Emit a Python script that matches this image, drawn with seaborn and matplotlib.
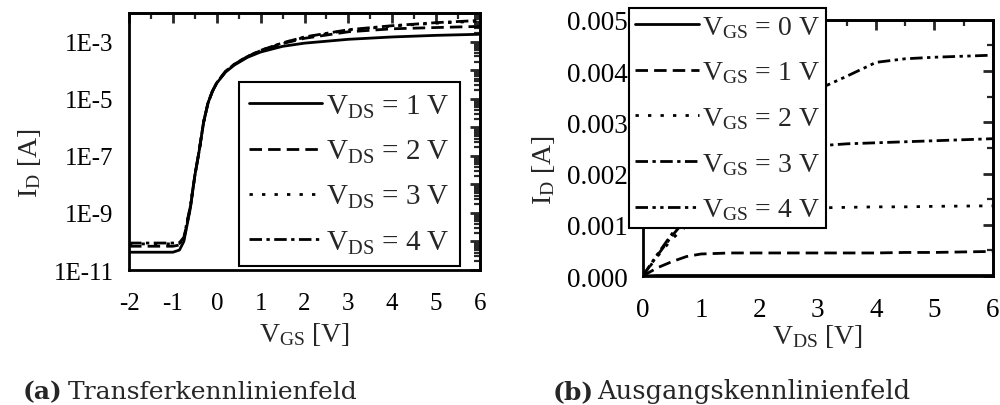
import numpy as np
import pandas as pd
import matplotlib
matplotlib.use('Agg')
import matplotlib.pyplot as plt
import matplotlib.ticker as mticker
import seaborn as sns

# (a) Transferkennlinien: I_D ueber V_GS
vgs = [-2, -1.5, -1.0, -0.85, -0.75, -0.6, -0.5, -0.4, -0.3, -0.2, -0.1, 0.0,
       0.2, 0.4, 0.7, 1.0, 1.5, 2.0, 3.0, 4.0, 5.0, 6.0]
id_vds1 = [4.2e-11, 4.2e-11, 4.2e-11, 5e-11, 1e-10, 1.5e-9, 2e-8, 1.5e-7, 1.5e-6, 7e-6,
           1.8e-5, 3.5e-5, 8.5e-5, 1.5e-4, 2.8e-4, 4.3e-4, 6.8e-4, 8.8e-4, 1.2e-3,
           1.45e-3, 1.65e-3, 1.8e-3]
id_vds2 = [6.8e-11, 6.8e-11, 6.8e-11, 7.5e-11, 1.2e-10, 1.6e-9, 2e-8, 1.5e-7, 1.5e-6, 7e-6,
           1.8e-5, 3.6e-5, 9e-5, 1.6e-4, 3e-4, 4.8e-4, 8.5e-4, 1.3e-3, 2.2e-3,
           2.8e-3, 3.1e-3, 3.4e-3]
id_vds3 = [8.2e-11, 8.2e-11, 8.2e-11, 8.5e-11, 1.3e-10, 1.7e-9, 2e-8, 1.5e-7, 1.5e-6, 7e-6,
           1.8e-5, 3.6e-5, 9e-5, 1.6e-4, 3e-4, 4.9e-4, 9e-4, 1.4e-3, 2.5e-3,
           3.5e-3, 4.4e-3, 5.2e-3]
id_vds4 = [8.8e-11, 8.8e-11, 8.8e-11, 9e-11, 1.4e-10, 1.8e-9, 2e-8, 1.5e-7, 1.5e-6, 7e-6,
           1.8e-5, 3.6e-5, 9e-5, 1.6e-4, 3e-4, 4.9e-4, 9e-4, 1.45e-3, 2.6e-3,
           3.6e-3, 4.6e-3, 5.5e-3]
transfer_labels = [r'V$_{\mathrm{DS}}$ = 1 V', r'V$_{\mathrm{DS}}$ = 2 V',
                   r'V$_{\mathrm{DS}}$ = 3 V', r'V$_{\mathrm{DS}}$ = 4 V']

# (b) Ausgangskennlinien: I_D ueber V_DS
vds = [0, 0.25, 0.5, 0.75, 1.0, 1.5, 2.0, 2.5, 3.0, 3.5, 4.0, 4.5, 5.0, 6.0]
id_vgs0 = [0, 0.00001, 0.00001, 0.00001, 0.00001, 0.00001, 0.00001, 0.00001,
           0.00001, 0.00001, 0.00001, 0.00001, 0.00001, 0.00001]
id_vgs1 = [0, 0.00016, 0.00028, 0.00038, 0.00043, 0.00045, 0.00045, 0.00045,
           0.00045, 0.00045, 0.00045, 0.00046, 0.00046, 0.00048]
id_vgs2 = [0, 0.00038, 0.00072, 0.00098, 0.00115, 0.00126, 0.0013, 0.00132,
           0.00133, 0.00134, 0.00135, 0.00135, 0.00136, 0.00137]
id_vgs3 = [0, 0.0004, 0.00078, 0.00112, 0.00145, 0.00195, 0.00228, 0.00245,
           0.00254, 0.00258, 0.0026, 0.00262, 0.00264, 0.00268]
id_vgs4 = [0, 0.00042, 0.00082, 0.0012, 0.00158, 0.0023, 0.0029, 0.0033,
           0.00364, 0.0039, 0.00417, 0.00424, 0.00427, 0.00431]
output_labels = [r'V$_{\mathrm{GS}}$ = 0 V', r'V$_{\mathrm{GS}}$ = 1 V',
                 r'V$_{\mathrm{GS}}$ = 2 V', r'V$_{\mathrm{GS}}$ = 3 V',
                 r'V$_{\mathrm{GS}}$ = 4 V']

sns.set_style('white')
plt.rcParams['font.family'] = ['Liberation Serif', 'DejaVu Serif']
plt.rcParams['mathtext.fontset'] = 'custom'
plt.rcParams['mathtext.rm'] = 'Liberation Serif'
plt.rcParams['mathtext.it'] = 'Liberation Serif:italic'
plt.rcParams['mathtext.bf'] = 'Liberation Serif:bold'
plt.rcParams['font.size'] = 18

lw = 2.0
styles_a = ['-', (0, (4.5, 2.2)), (0, (1.2, 3.3)), (0, (4.5, 1.6, 1.2, 1.6))]
styles_b = ['-', (0, (4.5, 2.2)), (0, (1.2, 3.3)), (0, (4.5, 1.6, 1.2, 1.6)),
            (0, (4.5, 1.6, 1.2, 1.6, 1.2, 1.6))]

fig = plt.figure(figsize=(10, 4.06), dpi=100)
ax1 = fig.add_axes([0.129, 0.3325, 0.351, 0.633])
ax2 = fig.add_axes([0.6427, 0.3177, 0.35, 0.631])


def style_axes(ax, size, pad):
    for sp in ax.spines.values():
        sp.set_linewidth(2.0)
        sp.set_color('black')
    ax.tick_params(which='major', direction='out', length=7, width=2, labelsize=size,
                   colors='black')
    ax.tick_params(axis='x', which='major', pad=pad)
    ax.tick_params(axis='y', which='major', pad=4)
    ax.tick_params(which='minor', direction='out', length=4, width=1.6, colors='black')


def inner_ticks(ax, xmaj, xmin, ymaj, ymin):
    sx = ax.secondary_xaxis('top')
    sx.xaxis.set_major_locator(xmaj)
    sx.xaxis.set_minor_locator(xmin)
    sx.tick_params(which='major', direction='in', length=7, width=2, labeltop=False)
    sx.tick_params(which='minor', direction='in', length=4, width=1.6)
    sx.spines['top'].set_linewidth(2)
    sy = ax.secondary_yaxis('right')
    sy.yaxis.set_major_locator(ymaj)
    sy.yaxis.set_minor_locator(ymin)
    sy.tick_params(which='major', direction='in', length=7, width=2, labelright=False)
    sy.tick_params(which='minor', direction='in', length=4, width=1.6, labelright=False)
    sy.spines['right'].set_linewidth(2)


legend_kw = dict(frameon=True, fancybox=False, framealpha=1,
                 edgecolor='black', borderaxespad=0)

# --- (a) ---
for y, lab, ls in zip([id_vds1, id_vds2, id_vds3, id_vds4], transfer_labels, styles_a):
    df = pd.DataFrame({'x': vgs, 'y': y})
    sns.lineplot(data=df, x='x', y='y', ax=ax1, color='black', lw=lw, linestyle=ls,
                 label=lab)
ax1.set_yscale('log')
ax1.set_xlim(-2, 6)
ax1.set_ylim(1e-11, 1e-2)
ax1.xaxis.set_major_locator(mticker.MultipleLocator(1))
ax1.xaxis.set_minor_locator(mticker.MultipleLocator(0.5))
ax1.yaxis.set_major_locator(mticker.LogLocator(base=10, numticks=20))
ax1.yaxis.set_minor_locator(mticker.LogLocator(base=10, subs=np.arange(2, 10), numticks=20))


def fmt_exp(v, pos):
    e = int(round(np.log10(v)))
    return f'1E{e}' if e % 2 != 0 else ''


ax1.yaxis.set_major_formatter(mticker.FuncFormatter(fmt_exp))
ax1.yaxis.set_minor_formatter(mticker.NullFormatter())
ax1.xaxis.set_major_formatter(mticker.FuncFormatter(lambda v, p: f'{int(v)}'))
style_axes(ax1, 18, 9)
ax1.set_xlabel(r'V$_{\mathrm{GS}}$ [V]', fontsize=20, labelpad=4)
ax1.set_ylabel(r'I$_{\mathrm{D}}$ [A]', fontsize=20)
ax1.yaxis.set_label_coords(-0.245, 0.42)
leg1 = ax1.legend(loc='lower right', bbox_to_anchor=(0.943, 0.016), fontsize=21,
                  borderpad=0.35, labelspacing=0.62, handletextpad=0.15,
                  handlelength=2.5, **legend_kw)
leg1.get_frame().set_linewidth(1.5)
inner_ticks(ax1, mticker.MultipleLocator(1), mticker.MultipleLocator(0.5),
            mticker.LogLocator(base=10, numticks=20),
            mticker.LogLocator(base=10, subs=np.arange(2, 10), numticks=20))

# --- (b) ---
for y, lab, ls in zip([id_vgs0, id_vgs1, id_vgs2, id_vgs3, id_vgs4], output_labels, styles_b):
    df = pd.DataFrame({'x': vds, 'y': y})
    sns.lineplot(data=df, x='x', y='y', ax=ax2, color='black', lw=lw, linestyle=ls,
                 label=lab)
ax2.set_xlim(0, 6)
ax2.set_ylim(0, 0.005)
ax2.xaxis.set_major_locator(mticker.MultipleLocator(1))
ax2.xaxis.set_minor_locator(mticker.MultipleLocator(0.5))
ax2.yaxis.set_major_locator(mticker.MultipleLocator(0.001))
ax2.yaxis.set_minor_locator(mticker.MultipleLocator(0.0005))
ax2.yaxis.set_major_formatter(mticker.FuncFormatter(lambda v, p: f'{v:.3f}'))
ax2.xaxis.set_major_formatter(mticker.FuncFormatter(lambda v, p: f'{int(v)}'))
style_axes(ax2, 19.5, 8)
ax2.set_xlabel(r'V$_{\mathrm{DS}}$ [V]', fontsize=20, labelpad=0)
ax2.set_ylabel(r'I$_{\mathrm{D}}$ [A]', fontsize=20)
ax2.yaxis.set_label_coords(-0.245, 0.418)
leg2 = ax2.legend(loc='upper left', bbox_to_anchor=(-0.039, 1.047), fontsize=20,
                  borderpad=0.22, labelspacing=0.71, handletextpad=0.1,
                  handlelength=2.3, **legend_kw)
leg2.get_frame().set_linewidth(1.5)
inner_ticks(ax2, mticker.MultipleLocator(1), mticker.MultipleLocator(0.5),
            mticker.MultipleLocator(0.001), mticker.MultipleLocator(0.0005))

# Unterschriften
cap_kw = dict(fontsize=18, ha='left', va='baseline', family=['DejaVu Serif'])
fig.text(0.023, 0.017, '(a)', fontweight='bold', **cap_kw)
fig.text(0.068, 0.017, 'Transferkennlinienfeld', **cap_kw)
fig.text(0.553, 0.017, '(b)', fontweight='bold', **cap_kw)
fig.text(0.597, 0.017, 'Ausgangskennlinienfeld', fontsize=18.5, ha='left',
         va='baseline', family=['DejaVu Serif'])

fig.savefig('out.png', dpi=100)
